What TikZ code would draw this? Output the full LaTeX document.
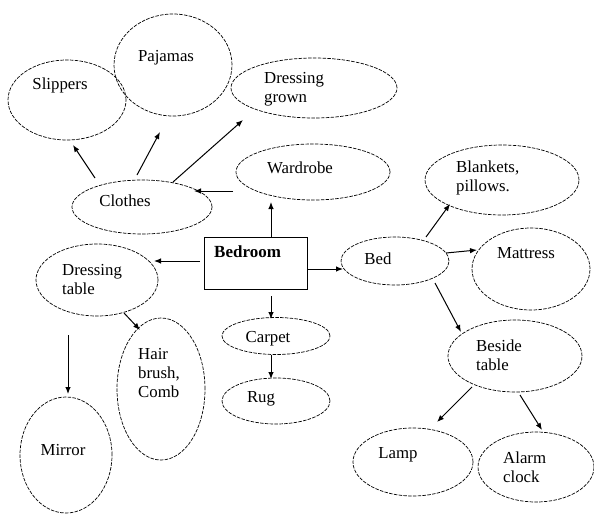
\documentclass[tikz,border=0pt]{standalone}
\usepackage{fontspec}
\setmainfont{Liberation Serif}
\usetikzlibrary{shapes.geometric,arrows.meta}
\tikzset{
  oval/.style={ellipse,draw,line width=0.7pt,dash pattern=on 3.5pt off 1.3pt,inner sep=0pt},
  lbl/.style={font=\fontsize{16.8}{19}\selectfont,inner sep=0pt,align=left},
  arr/.style={line width=1pt,-{Latex[length=7pt,width=5.5pt]}}
}
\begin{document}
\begin{tikzpicture}[x=1pt,y=-1pt]
\useasboundingbox (0,0) rectangle (594,514);
% ellipses
\node[oval,minimum width=118pt,minimum height=102pt] (paj) at (173,65) {};
\node[oval,minimum width=118pt,minimum height=80pt] (slip) at (67,100) {};
\node[oval,minimum width=166pt,minimum height=60pt] (gown) at (314,88) {};
\node[oval,minimum width=154pt,minimum height=56pt] (ward) at (313,172) {};
\node[oval,minimum width=140pt,minimum height=54pt] (cloth) at (142,207) {};
\node[oval,minimum width=122pt,minimum height=72pt] (dtab) at (97,280) {};
\node[oval,minimum width=88pt,minimum height=142pt] (hair) at (161,389) {};
\node[oval,minimum width=92pt,minimum height=116pt] (mirr) at (66,455) {};
\node[oval,minimum width=108pt,minimum height=37pt] (carp) at (276,336) {};
\node[oval,minimum width=108pt,minimum height=46pt] (rug) at (276,401) {};
\node[oval,minimum width=108pt,minimum height=48pt] (bed) at (395,261) {};
\node[oval,minimum width=154pt,minimum height=70pt] (blank) at (502,180) {};
\node[oval,minimum width=118pt,minimum height=82pt] (matt) at (531,269) {};
\node[oval,minimum width=134pt,minimum height=72pt] (btab) at (515,356) {};
\node[oval,minimum width=120pt,minimum height=68pt] (lamp) at (413,462) {};
\node[oval,minimum width=116pt,minimum height=70pt] (alarm) at (536,467) {};
% bedroom box
\node[draw,line width=1pt,minimum width=103pt,minimum height=52pt,inner sep=0pt] (bedroom) at (255.5,263) {};
% labels
\node[lbl] (tslip) at (60,85) {Slippers};
\node[lbl] (tpaj) at (166,58) {Pajamas};
\node[lbl,anchor=west] (tgown) at (264,89) {Dressing\\grown};
\node[lbl] (tward) at (300,168) {Wardrobe};
\node[lbl] (tcloth) at (125,201) {Clothes};
\node[lbl,anchor=west,font=\fontsize{17}{19}\selectfont\bfseries] (tbedroom) at (214,252) {Bedroom};
\node[lbl,anchor=west] (tdtab) at (62,280) {Dressing\\table};
\node[lbl,anchor=west] (thair) at (138,373) {Hair\\brush,\\Comb};
\node[lbl] (tmirr) at (63,450) {Mirror};
\node[lbl] (tcarp) at (268,339) {Carpet};
\node[lbl] (trug) at (261,399) {Rug};
\node[lbl] (tbed) at (378,259) {Bed};
\node[lbl,anchor=west] (tblank) at (456,178) {Blankets,\\pillows.};
\node[lbl] (tmatt) at (526,253) {Mattress};
\node[lbl,anchor=west] (tbtab) at (476,355) {Beside\\table};
\node[lbl] (tlamp) at (398,455) {Lamp};
\node[lbl,anchor=west] (talarm) at (503,467) {Alarm\\clock};
% arrow end points
\coordinate (a1s) at (95,178);  \coordinate (a1e) at (73,145);
\coordinate (a2s) at (137,175); \coordinate (a2e) at (160,132);
\coordinate (a3s) at (173,182); \coordinate (a3e) at (243,120);
\coordinate (a4s) at (233,191); \coordinate (a4e) at (194,191);
\coordinate (a5s) at (271,237); \coordinate (a5e) at (271,202);
\coordinate (a6s) at (200,261); \coordinate (a6e) at (154,261);
\coordinate (a7s) at (271,296); \coordinate (a7e) at (271,319);
\coordinate (a8s) at (271,355); \coordinate (a8e) at (271,379);
\coordinate (a9s) at (307,269); \coordinate (a9e) at (343,269);
\coordinate (b1s) at (426,237); \coordinate (b1e) at (450,204);
\coordinate (b2s) at (446,253); \coordinate (b2e) at (477,250);
\coordinate (b3s) at (435,283); \coordinate (b3e) at (461,332);
\coordinate (b4s) at (472,387); \coordinate (b4e) at (437,422);
\coordinate (b5s) at (520,395); \coordinate (b5e) at (542,430);
\coordinate (b6s) at (124,313); \coordinate (b6e) at (140,330);
\coordinate (b7s) at (68,335);  \coordinate (b7e) at (68,394);
% arrows
\draw[arr] (a1s) -- (a1e);
\draw[arr] (a2s) -- (a2e);
\draw[arr] (a3s) -- (a3e);
\draw[arr] (a4s) -- (a4e);
\draw[arr] (a5s) -- (a5e);
\draw[arr] (a6s) -- (a6e);
\draw[arr] (a7s) -- (a7e);
\draw[arr] (a8s) -- (a8e);
\draw[arr] (a9s) -- (a9e);
\draw[arr] (b1s) -- (b1e);
\draw[arr] (b2s) -- (b2e);
\draw[arr] (b3s) -- (b3e);
\draw[arr] (b4s) -- (b4e);
\draw[arr] (b5s) -- (b5e);
\draw[arr] (b6s) -- (b6e);
\draw[arr] (b7s) -- (b7e);
\end{tikzpicture}
\end{document}
